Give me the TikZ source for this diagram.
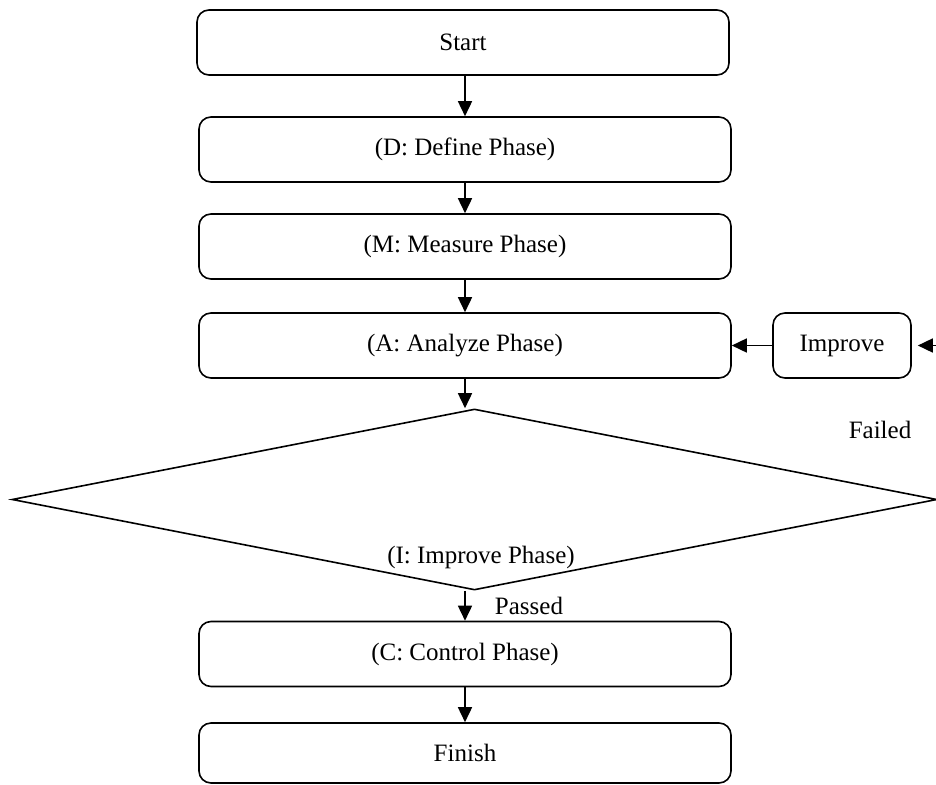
\documentclass[tikz,border=0pt]{standalone}
\usepackage{fontspec}
\setmainfont{Liberation Serif}
\usetikzlibrary{arrows.meta,shapes.geometric}
\begin{document}
\begin{tikzpicture}[x=1pt,y=-1pt,
  box/.style={draw,rounded corners=12pt,line width=1.6pt,minimum width=532pt,minimum height=65pt,inner sep=0pt,font=\fontsize{25}{30}\selectfont},
  conn/.style={line width=1.6pt,-{Triangle[length=15pt,width=14pt]}},
  lbl/.style={font=\fontsize{25}{30}\selectfont,inner sep=0pt}]
\useasboundingbox (0,0) rectangle (936,784);
\node[box] (start) at (463,42.5) {Start};
\node[box] (define) at (465,149.5) {(D: Define Phase)};
\node[box] (measure) at (465,246.5) {(M: Measure Phase)};
\node[box] (analyze) at (465,345.5) {(A: Analyze Phase)};
\node[box,minimum width=138pt] (improve) at (842,345.5) {Improve};
\node[draw,diamond,minimum width=925pt,minimum height=181pt,inner sep=0pt,line width=1.6pt] (dia) at (474.5,499.5) {};
\node[lbl] (diatext) at (481,557) {(I: Improve Phase)};
\node[box] (control) at (465,654) {(C: Control Phase)};
\node[box,minimum height=60pt] (finish) at (465,753) {Finish};
\node[lbl] (passed) at (529,606) {Passed};
\node[lbl] (failed) at (880,430) {Failed};
\coordinate (fin) at (936,345.5);
\draw[conn] (start.south -| define.north) -- (define.north);
\draw[conn] (define.south) -- (measure.north);
\draw[conn] (measure.south) -- (analyze.north);
\draw[conn] (analyze.south) -- (analyze.south |- dia.north);
\draw[conn] (control.north |- dia.south) -- (control.north);
\draw[conn] (control.south) -- (finish.north);
\draw[conn] (improve.west) -- (analyze.east);
\draw[conn,shorten >=6pt] (fin) -- (improve.east);
\end{tikzpicture}
\end{document}
